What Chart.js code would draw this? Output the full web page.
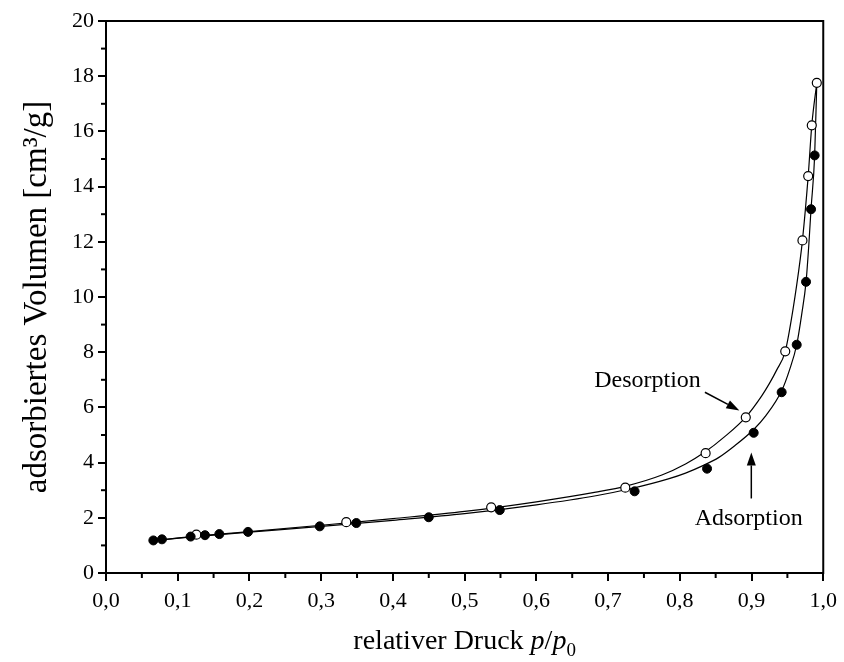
<!DOCTYPE html>
<html><head><meta charset="utf-8">
<script src="https://cdn.jsdelivr.net/npm/chart.js@4.4.0/dist/chart.umd.min.js"></script>
<style>html,body{margin:0;padding:0;background:#fff;} #wrap{width:844px;height:662px;}</style>
</head><body><div id="wrap"><canvas id="c" width="844" height="662"></canvas></div>
<script>
// ---- data ----
const adsorptionX = [0.066,0.078,0.118,0.138,0.158,0.198,0.298,0.349,0.450,0.549,0.737,0.838,0.903,0.942,0.963,0.976,0.983,0.988];
const adsorptionY = [1.18,1.22,1.32,1.37,1.41,1.49,1.69,1.81,2.02,2.28,2.96,3.78,5.08,6.55,8.27,10.55,13.18,15.13];
const desorptionX = [0.126,0.335,0.537,0.724,0.836,0.892,0.947,0.971,0.979,0.984,0.991];
const desorptionY = [1.39,1.84,2.38,3.09,4.34,5.64,8.03,12.05,14.38,16.22,17.76];
// fitted curves
const adsCurveX = [0.066,0.12,0.2,0.3,0.4,0.5,0.6,0.683,0.734,0.784,0.808,0.833,0.854,0.877,0.903,0.92,0.942,0.953,0.963,0.970,0.976,0.980,0.983,0.988,0.991];
const adsCurveY = [1.17,1.31,1.48,1.69,1.91,2.15,2.47,2.80,3.07,3.41,3.62,3.90,4.18,4.62,5.20,5.70,6.60,7.36,8.27,9.38,10.54,11.94,13.2,15.12,17.76];
const desCurveX = [0.066,0.12,0.2,0.3,0.4,0.5,0.6,0.683,0.725,0.775,0.808,0.835,0.863,0.892,0.914,0.925,0.935,0.947,0.958,0.968,0.971,0.979,0.984,0.991];
const desCurveY = [1.17,1.32,1.50,1.73,1.97,2.23,2.58,2.93,3.15,3.55,3.95,4.38,4.95,5.65,6.41,6.87,7.35,8.03,9.58,11.39,12.05,14.38,16.22,17.76];
const xMinorTicks = [0.05,0.15,0.25,0.35,0.45,0.55,0.65,0.75,0.85,0.95];
const yMinorTicks = [1,3,5,7,9,11,13,15,17,19];
const labelDes = 'Desorption';
const labelAds = 'Adsorption';
const yTitle = 'adsorbiertes Volumen [cm³/g]';
const xTitleParts = ['relativer Druck ', 'p', '/', 'p', '0'];

// annotation anchors (data units)
const annot = {
  des: {text:[0.755,6.97], from:[0.835,6.55], to:[0.883,5.89]},
  ads: {text:[0.896,1.97], from:[0.8997,2.70], to:[0.8997,4.37]}
};

const FONT = "'Liberation Serif','Times New Roman',serif";
const zip = (xs, ys) => xs.map((x,i)=>({x, y: ys[i]}));

function arrow(ctx, x1, y1, x2, y2){
  const ang = Math.atan2(y2-y1, x2-x1);
  const hl = 13, hw = 4.5;
  const bx = x2 - hl*Math.cos(ang), by = y2 - hl*Math.sin(ang);
  ctx.beginPath(); ctx.moveTo(x1,y1); ctx.lineTo(bx,by); ctx.lineWidth = 1.5; ctx.strokeStyle='#000'; ctx.stroke();
  ctx.beginPath();
  ctx.moveTo(x2,y2);
  ctx.lineTo(bx + hw*Math.sin(ang), by - hw*Math.cos(ang));
  ctx.lineTo(bx - hw*Math.sin(ang), by + hw*Math.cos(ang));
  ctx.closePath(); ctx.fillStyle='#000'; ctx.fill();
}

const extras = {
  id: 'extras',
  afterDraw(chart){
    const ctx = chart.ctx, a = chart.chartArea, xs = chart.scales.x, ys = chart.scales.y;
    ctx.save();
    // frame
    ctx.strokeStyle = '#000'; ctx.lineWidth = 2;
    ctx.strokeRect(a.left, a.top, a.right - a.left, a.bottom - a.top);
    // minor ticks
    ctx.lineWidth = 2;
    xMinorTicks.forEach(v => { const px = xs.getPixelForValue(v); ctx.beginPath(); ctx.moveTo(px, a.bottom); ctx.lineTo(px, a.bottom + 5); ctx.stroke(); });
    yMinorTicks.forEach(v => { const py = ys.getPixelForValue(v); ctx.beginPath(); ctx.moveTo(a.left, py); ctx.lineTo(a.left - 5, py); ctx.stroke(); });
    // annotations
    ctx.fillStyle = '#000'; ctx.font = '24px ' + FONT; ctx.textAlign = 'center'; ctx.textBaseline = 'middle';
    [[annot.des, labelDes],[annot.ads, labelAds]].forEach(([an, t]) => {
      ctx.fillText(t, xs.getPixelForValue(an.text[0]), ys.getPixelForValue(an.text[1]));
      arrow(ctx, xs.getPixelForValue(an.from[0]), ys.getPixelForValue(an.from[1]), xs.getPixelForValue(an.to[0]), ys.getPixelForValue(an.to[1]));
    });
    // x title with italic p and subscript 0
    const fN = '28px ' + FONT, fI = 'italic 28px ' + FONT, fS = '19px ' + FONT;
    const segs = [[xTitleParts[0], fN, 0],[xTitleParts[1], fI, 0],[xTitleParts[2], fN, 0],[xTitleParts[3], fI, 0],[xTitleParts[4], fS, 7]];
    let total = 0;
    segs.forEach(s => { ctx.font = s[1]; total += ctx.measureText(s[0]).width; });
    let x = (a.left + a.right)/2 - total/2;
    const base = 649;
    ctx.textAlign = 'left'; ctx.textBaseline = 'alphabetic';
    segs.forEach(s => { ctx.font = s[1]; ctx.fillText(s[0], x, base + s[2]); x += ctx.measureText(s[0]).width; });
    ctx.restore();
  }
};

new Chart(document.getElementById('c'), {
  type: 'scatter',
  data: {
    datasets: [
      {label: 'Adsorption', data: zip(adsorptionX, adsorptionY), showLine: false, pointRadius: 4.5, pointBackgroundColor: '#000', pointBorderColor: '#000', pointBorderWidth: 1},
      {label: 'Desorption', data: zip(desorptionX, desorptionY), showLine: false, pointRadius: 4.5, pointBackgroundColor: '#fff', pointBorderColor: '#000', pointBorderWidth: 1.2},
      {label: 'Adsorption fit', data: zip(adsCurveX, adsCurveY), showLine: true, pointRadius: 0, borderColor: '#000', borderWidth: 1.2, cubicInterpolationMode: 'monotone', fill: false},
      {label: 'Desorption fit', data: zip(desCurveX, desCurveY), showLine: true, pointRadius: 0, borderColor: '#000', borderWidth: 1.2, cubicInterpolationMode: 'monotone', fill: false}
    ]
  },
  options: {
    responsive: false, animation: false, devicePixelRatio: 1,
    layout: {padding: {top: 21, right: 15, bottom: 0, left: 0}},
    plugins: {legend: {display: false}, tooltip: {enabled: false}},
    scales: {
      x: {
        type: 'linear', position: 'bottom', min: 0, max: 1,
        ticks: {stepSize: 0.1, autoSkip: false, maxRotation: 0, color: '#000', padding: 7,
                font: {family: FONT, size: 22},
                callback: v => Number(v).toFixed(1).replace('.', ',')},
        grid: {drawOnChartArea: false, drawTicks: true, tickLength: 8, color: '#000', lineWidth: 2},
        border: {display: true, color: '#000', width: 2},
        afterFit: s => { s.height = 89; }
      },
      y: {
        type: 'linear', position: 'left', min: 0, max: 20,
        ticks: {stepSize: 2, autoSkip: false, color: '#000', padding: 4,
                font: {family: FONT, size: 22}},
        grid: {drawOnChartArea: false, drawTicks: true, tickLength: 8, color: '#000', lineWidth: 2},
        border: {display: true, color: '#000', width: 2},
        title: {display: true, text: yTitle, color: '#000', font: {family: FONT, size: 33, lineHeight: 1}, padding: {top: 21, bottom: 0}},
        afterFit: s => { s.width = 106; }
      }
    }
  },
  plugins: [extras]
});
</script></body></html>
